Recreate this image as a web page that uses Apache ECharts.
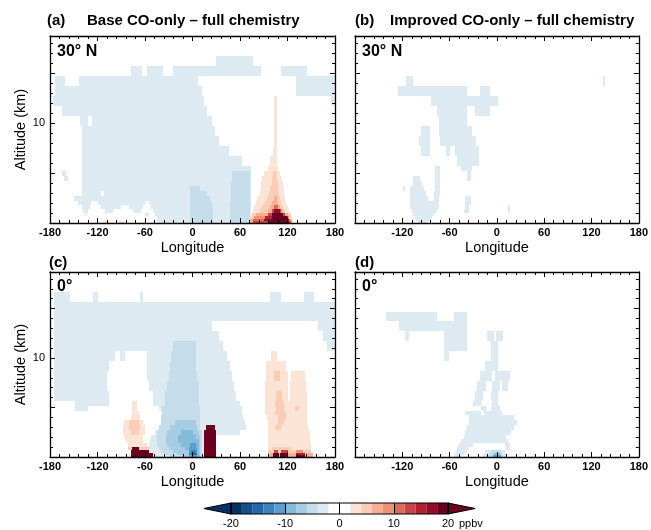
<!DOCTYPE html>
<html>
<head>
<meta charset="utf-8">
<script src="https://cdn.jsdelivr.net/npm/echarts@6/dist/echarts.min.js"></script>
<style>
  html, body { margin: 0; padding: 0; background: #fff; }
  #chart { width: 651px; height: 530px; }
</style>
</head>
<body>
<div id="chart"></div>
<script>
// model level edges (km), row r spans altEdges[r]..altEdges[r+1]
var altEdges = [0, 0.2, 0.4, 0.7, 1.0, 1.4, 1.8, 2.2, 2.7, 3.2, 3.7, 4.2, 4.7, 5.2, 5.7,
  6.7, 7.7, 8.7, 9.7, 10.7, 11.7, 12.7, 13.7, 14.7, 15.7, 16.7, 17.7, 18.7];

// colour bar levels (ppbv) and fills
var levels = [-20, -18, -16, -14, -12, -10, -8, -6, -4, -2, 0, 2, 4, 6, 8, 10, 12, 14, 16, 18, 20];
var levelColors = ['#063263', '#164f8c', '#2466a8', '#3a82bb', '#5b9ecb', '#84bbd9', '#a5cce2',
  '#c5ddeb', '#deeaf2', '#ffffff', '#ffffff', '#fbe3d6', '#fbcdb6', '#f6af94', '#ec9275',
  '#dc6b56', '#c9444a', '#b21f31', '#920e27', '#66001f'];
var underColor = '#0a2f63';
var overColor = '#6a0020';
var cbLabels = [-20, -10, 0, 10, 20];

// [row, lon0, lon1, ppbv] ; later spans are drawn over earlier ones
var spansA = [
  [24, 30, 77, -3],
  [23, -78, -64, -3], [23, -58, -37, -3], [23, -25, 87, -3], [23, 112, 144, -3],
  [22, -174, -161, -3], [22, -143, 7, -3], [22, 131, 180, -3],
  [21, -174, 12, -3], [21, 131, 180, -3],
  [20, -176, 14, -3], [20, 175, 180, -3],
  [19, -165, 18, -3],
  [18, -142, 24, -3], [18, -132, -127, 0],
  [17, -140, 28, -3],
  [16, -139, 34, -3],
  [15, -139, 46, -3],
  [14, -139, 62, -3],
  [13, -139, 74, -3],
  [12, -139, 74, -3], [12, -165, -160, -3],
  [11, -139, 74, -3], [11, -162, -157, -3],
  [10, -139, 74, -3],
  [9, -139, 74, -3],
  [8, -140, 74, -3], [8, -116, -112, 0],
  [7, -150, 74, -3],
  [6, -145, 74, -3], [6, -128, -120, 0], [6, -60, -55, 0],
  [5, -140, 74, -3], [5, -130, -115, 0], [5, -90, -80, 0], [5, -62, -52, 0],
  [4, -138, 74, -3], [4, -132, -110, 0], [4, -100, -75, 0], [4, -65, -50, 0],
  [3, -135, 74, -3], [3, -133, -60, 0], [3, -55, -48, 0],
  [2, -130, 74, -3], [2, -130, -45, 0],
  [1, -45, 74, -3],
  [0, -45, 74, -3],
  [12, 50, 72, -5], [11, 50, 72, -5], [10, 49, 72, -5],
  [9, -3, 10, -5], [9, 49, 72, -5],
  [8, -3, 18, -5], [8, 48, 72, -5],
  [7, -3, 22, -5], [7, 48, 72, -5],
  [6, -3, 24, -5], [6, 47, 72, -5],
  [5, -3, 26, -5], [5, 47, 72, -5],
  [4, -3, 26, -5], [4, 47, 72, -5],
  [3, -3, 26, -5], [3, 47, 72, -5],
  [2, -3, 26, -5], [2, 47, 72, -5],
  [1, -3, 26, -5], [1, 47, 72, -5],
  [0, -3, 26, -5], [0, 47, 72, -5],
  [20, 103, 107, 3], [19, 103, 107, 3], [18, 103, 107, 3], [17, 103, 107, 3],
  [16, 103, 107, 3], [15, 102, 107, 3],
  [14, 98, 107, 3],
  [13, 95, 108, 3],
  [12, 90, 110, 3], [12, 102, 107, 5],
  [11, 88, 112, 3], [11, 100, 107, 5],
  [10, 87, 114, 3], [10, 100, 108, 5],
  [9, 86, 115, 3], [9, 98, 108, 5],
  [8, 85, 116, 3], [8, 96, 109, 5],
  [7, 82, 117, 3], [7, 94, 110, 5], [7, 103, 107, 7],
  [6, 80, 118, 3], [6, 92, 112, 5], [6, 101, 108, 7],
  [5, 78, 120, 3], [5, 88, 114, 5], [5, 98, 110, 7], [5, 103, 108, 11],
  [4, 76, 122, 3], [4, 85, 117, 5], [4, 95, 114, 7], [4, 101, 112, 13], [4, 103, 110, 17],
  [3, 75, 124, 5], [3, 80, 120, 7], [3, 95, 117, 13], [3, 101, 114, 22],
  [2, 74, 125, 5], [2, 78, 122, 9], [2, 92, 120, 15], [2, 100, 119, 22],
  [1, 73, 126, 7], [1, 77, 123, 11], [1, 90, 122, 17], [1, 99, 120, 22],
  [0, 73, 126, 7], [0, 76, 124, 13], [0, 95, 122, 22],
  [0, -113, -105, 3], [0, -95, -85, 3]
];

var spansB = [
  [22, -115, -107, -3], [22, 135, 137, -3],
  [21, -126, -38, -3], [21, -21, -9, -3],
  [20, -83, 2, -3],
  [19, -76, -38, -3], [19, -28, -9, -3],
  [18, -74, -38, -3],
  [17, -74, -32, -3], [17, -96, -85, -3],
  [16, -72, -26, -3], [16, -99, -85, -3],
  [15, -65, -23, -3], [15, -59, -53, 0], [15, -96, -85, -3],
  [14, -51, -23, -3],
  [13, -46, -32, -3], [13, -79, -72, -3],
  [12, -38, -33, -3], [12, -79, -72, -3],
  [11, -38, -33, -3], [11, -79, -72, -3], [11, -107, -97, -3],
  [10, -107, -95, -3], [10, -79, -72, -3],
  [9, -110, -93, -3], [9, -79, -72, -3], [9, -119, -116, -3],
  [8, -110, -90, -3], [8, -80, -72, -3],
  [7, -110, -88, -3], [7, -80, -74, -3], [7, -40, -33, -3],
  [6, -110, -74, -3], [6, -41, -33, -3],
  [5, -110, -74, -3], [5, -41, -35, -3], [5, 14, 17, -3],
  [4, -108, -76, -3], [4, -42, -35, -3], [4, 14, 17, -3],
  [3, -106, -80, -3],
  [2, -104, -82, -3],
  [1, -102, -84, -3],
  [0, -100, -88, -3]
];

var spansC = [
  [24, -175, -155, -3], [24, -126, -120, -3], [24, -66, -63, -3], [24, 98, 112, -3], [24, 141, 154, -3],
  [23, -175, 180, -3],
  [22, -175, 180, -3],
  [21, -175, 24, -3], [21, 158, 180, -3],
  [20, -175, 33, -3], [20, 165, 180, -3],
  [19, -175, 38, -3], [19, 170, 180, -3],
  [18, -175, 43, -3], [18, -98, -92, 0], [18, -85, -58, 0],
  [17, -175, 47, -3], [17, -105, -57, 0],
  [16, -175, 50, -3], [16, -108, -57, 0],
  [15, -175, 52, -3], [15, -108, -55, 0],
  [14, -175, 55, -3], [14, -105, -50, 0],
  [13, -149, -105, -3], [13, -50, 60, -3],
  [12, -149, -132, -3], [12, -42, 62, -3],
  [11, -38, 62, -3],
  [10, -38, 64, -3],
  [9, -38, 66, -3],
  [8, -42, 68, -3],
  [7, -48, 14, -3], [7, 30, 60, -3],
  [6, -52, 14, -3],
  [5, -54, 14, -3],
  [4, -55, 14, -3],
  [3, -56, 14, -3],
  [2, -56, 14, -3],
  [1, -50, 14, -3],
  [0, -50, 14, -3],
  [19, -25, 5, -5], [18, -27, 5, -5], [17, -28, 5, -5], [16, -30, 6, -5], [15, -32, 8, -5],
  [14, -35, 8, -5], [13, -35, 8, -5], [12, -38, 10, -5], [11, -38, 10, -5], [10, -40, 10, -5],
  [9, -40, 10, -5], [8, -42, 10, -5], [7, -45, 12, -5], [6, -45, 12, -5], [5, -45, 12, -5],
  [4, -45, 12, -5], [3, -42, 12, -5], [2, -40, 12, -5], [1, -35, 12, -5], [0, -30, 12, -5],
  [9, -22, 4, -7], [8, -28, 6, -7], [7, -32, 8, -7], [6, -33, 10, -7], [5, -33, 10, -7],
  [4, -32, 10, -7], [3, -30, 10, -7], [2, -25, 10, -7], [1, -20, 10, -7], [0, -12, 10, -7],
  [7, -15, 0, -9], [6, -18, 5, -9], [5, -18, 8, -9], [4, -15, 8, -9], [3, -10, 8, -9],
  [2, -5, 8, -9], [1, -2, 8, -9], [0, -5, 10, -9],
  [4, -3, 5, -11], [3, -5, 6, -11], [2, -5, 6, -11], [2, -2, 5, -13], [1, -4, 6, -13],
  [1, 0, 5, -15], [0, -3, 6, -11],
  [13, -76, -70, 3], [12, -76, -70, 3], [11, -77, -68, 3], [10, -78, -66, 3],
  [9, -86, -62, 3], [9, -80, -68, 5],
  [8, -88, -60, 3], [8, -80, -66, 5],
  [7, -88, -60, 3], [7, -78, -68, 5],
  [6, -86, -62, 3], [5, -84, -62, 3], [4, -82, -58, 3],
  [3, -82, -55, 5], [3, -77, -68, 22],
  [2, -78, -55, 22], [1, -78, -50, 22], [0, -78, -50, 22],
  [8, 17, 28, 22], [7, 15, 30, 22], [6, 15, 30, 22], [5, 15, 30, 22], [4, 15, 30, 22],
  [3, 15, 30, 22], [2, 15, 30, 22], [1, 15, 30, 22], [0, 15, 30, 22],
  [18, 99, 107, 3],
  [17, 93, 118, 3],
  [16, 93, 120, 3], [16, 124, 142, 3], [16, 103, 110, 5],
  [15, 92, 120, 3], [15, 123, 143, 3],
  [14, 92, 120, 3], [14, 123, 144, 3], [14, 105, 113, 5],
  [13, 92, 144, 3], [13, 104, 115, 5],
  [12, 92, 144, 3], [12, 106, 116, 5], [12, 130, 135, 5],
  [11, 92, 145, 3], [11, 104, 118, 5],
  [10, 94, 145, 3], [10, 108, 118, 5],
  [9, 95, 145, 3], [9, 108, 116, 5],
  [8, 95, 146, 3], [8, 104, 112, 5],
  [7, 95, 148, 3], [6, 95, 148, 3], [5, 95, 148, 3], [4, 95, 150, 3],
  [3, 95, 150, 3], [3, 100, 125, 5],
  [2, 95, 150, 5], [2, 103, 108, 13], [2, 112, 120, 13], [2, 131, 140, 9],
  [1, 95, 152, 7], [1, 102, 109, 22], [1, 111, 121, 22], [1, 131, 142, 15],
  [0, 95, 152, 7], [0, 102, 109, 22], [0, 111, 121, 22], [0, 131, 142, 22]
];

var spansD = [
  [22, -141, -76, -3], [22, -55, -38, -3],
  [21, -124, -38, -3],
  [20, -116, -111, -3], [20, -67, -38, -3], [20, -13, -4, -3], [20, -1, 8, -3],
  [19, -67, -38, -3], [19, -7, 2, -3],
  [18, -67, -61, -3], [18, -7, 2, -3],
  [17, -15, 2, -3],
  [16, -22, -6, -3], [16, -2, 16, -3],
  [15, -25, -14, -3], [15, -6, 4, -3], [15, 6, 14, -3],
  [14, -28, -18, -3], [14, -8, 2, -3],
  [13, -30, -20, -3], [13, -6, 2, -3],
  [12, -20, -14, -3], [12, -8, 4, -3],
  [11, -40, -20, -3], [11, -16, 6, -3],
  [10, -35, 22, -3],
  [9, -35, 25, -3],
  [8, -38, 22, -3],
  [7, -40, 18, -3],
  [6, -42, 12, -3],
  [5, -45, 14, -3],
  [4, -48, -30, -3], [4, 10, 16, -3],
  [3, -50, -35, -3], [3, 12, 16, -3],
  [2, -52, -38, -3], [2, -15, 10, -3], [2, -8, 5, -5],
  [1, -53, -42, -3], [1, -18, 12, -3], [1, -10, 6, -5], [1, -4, 4, -9],
  [0, -55, -45, -3], [0, -18, 12, -3], [0, -12, 8, -5], [0, -5, 5, -11]
];

var panelTitles = ['Base CO-only \u2013 full chemistry', 'Improved CO-only \u2013 full chemistry'];
var panelTags = ['(a)', '(b)', '(c)', '(d)'];
var latLabels = ['30\u00b0 N', '30\u00b0 N', '0\u00b0', '0\u00b0'];

var grids = [
  {left: 50, top: 36, width: 285, height: 187},
  {left: 355, top: 36, width: 287, height: 187},
  {left: 50, top: 272, width: 285, height: 185},
  {left: 355, top: 272, width: 287, height: 185},
  {left: 231, top: 503, width: 217, height: 11}
];
var cbTip = 5; // length of the end triangles, in colour-bar units
var font = 'Liberation Sans, Arial, sans-serif';

function colorOf(v) {
  if (v < levels[0]) return underColor;
  if (v >= levels[levels.length - 1]) return overColor;
  for (var i = 0; i < levels.length - 1; i++) {
    if (v >= levels[i] && v < levels[i + 1]) return levelColors[i];
  }
  return '#ffffff';
}

function toCells(spans) {
  return spans.map(function (s) {
    return [s[1], s[2], altEdges[s[0]], altEdges[s[0] + 1], s[3]];
  });
}

function renderCell(params, api) {
  var p0 = api.coord([api.value(0), api.value(3)]);
  var p1 = api.coord([api.value(1), api.value(2)]);
  var x0 = Math.round(p0[0]), y0 = Math.round(p0[1]);
  var x1 = Math.round(p1[0]), y1 = Math.round(p1[1]);
  return {
    type: 'rect',
    shape: {x: x0, y: y0, width: x1 - x0, height: y1 - y0},
    style: {fill: colorOf(api.value(4))}
  };
}

var frame = {color: '#000', width: 1.3};
var tickStyle = {color: '#000', width: 1};
var xAxes = [], yAxes = [], series = [];
var allSpans = [spansA, spansB, spansC, spansD];

for (var i = 0; i < 4; i++) {
  var leftCol = (i % 2 === 0);
  xAxes.push({
    gridIndex: i, type: 'value', min: -180, max: 180, interval: 60, position: 'bottom', z: 10,
    axisLine: {show: true, onZero: false, lineStyle: frame},
    axisTick: {inside: true, length: 5, lineStyle: tickStyle},
    minorTick: {show: true, splitNumber: 5, length: 3, lineStyle: tickStyle},
    splitLine: {show: false},
    axisLabel: {
      margin: 4, fontSize: 11, fontWeight: 'bold', color: '#000', fontFamily: font,
      showMinLabel: true, showMaxLabel: true,
      formatter: (function (lc) {
        return function (v) { return (!lc && v === -180) ? '' : String(v); };
      })(leftCol)
    },
    name: 'Longitude', nameLocation: 'middle', nameGap: 17,
    nameTextStyle: {fontSize: 14.5, color: '#000', fontFamily: font}
  });
  xAxes.push({
    gridIndex: i, type: 'value', min: -180, max: 180, interval: 60, position: 'top', z: 10,
    axisLine: {show: true, onZero: false, lineStyle: frame},
    axisTick: {inside: true, length: 5, lineStyle: tickStyle},
    minorTick: {show: true, splitNumber: 5, length: 3, lineStyle: tickStyle},
    splitLine: {show: false},
    axisLabel: {show: false}
  });
  yAxes.push({
    gridIndex: i, type: 'value', min: 0, max: 18.7, interval: 5, position: 'left', z: 10,
    axisLine: {show: true, onZero: false, lineStyle: frame},
    axisTick: {inside: true, length: 5, lineStyle: tickStyle},
    minorTick: {show: true, splitNumber: 5, length: 3, lineStyle: tickStyle},
    splitLine: {show: false},
    axisLabel: {
      margin: 5, fontSize: 11, color: '#000', fontFamily: font,
      formatter: (function (lc) {
        return function (v) { return (lc && v === 10) ? '10' : ''; };
      })(leftCol)
    },
    name: leftCol ? 'Altitude (km)' : '', nameLocation: 'middle', nameGap: 22,
    nameTextStyle: {fontSize: 14.5, color: '#000', fontFamily: font}
  });
  yAxes.push({
    gridIndex: i, type: 'value', min: 0, max: 18.7, interval: 5, position: 'right', z: 10,
    axisLine: {show: true, onZero: false, lineStyle: frame},
    axisTick: {inside: true, length: 5, lineStyle: tickStyle},
    minorTick: {show: true, splitNumber: 5, length: 3, lineStyle: tickStyle},
    splitLine: {show: false},
    axisLabel: {show: false}
  });
  series.push({
    type: 'custom', xAxisIndex: 2 * i, yAxisIndex: 2 * i,
    data: toCells(allSpans[i]), renderItem: renderCell,
    clip: true, silent: true, animation: false
  });
}

// colour bar
xAxes.push({
  gridIndex: 4, type: 'value', min: -20, max: 20, interval: 10, z: 10,
  axisLine: {show: false}, axisTick: {show: false},
  splitLine: {show: true, lineStyle: {color: '#000', width: 1}},
  axisLabel: {margin: 4, fontSize: 11, color: '#000', fontFamily: font,
    formatter: function (v) { return cbLabels.indexOf(v) >= 0 ? String(v) : ''; }},
  name: 'ppbv', nameLocation: 'end', nameGap: 11,
  nameTextStyle: {fontSize: 11, color: '#000', fontFamily: font, verticalAlign: 'top', padding: [4, 0, 0, 0]}
});
yAxes.push({gridIndex: 4, type: 'value', min: 0, max: 1, show: false});

var cbBins = levels.slice(0, -1).map(function (lo, k) { return [lo, levels[k + 1], k]; });
series.push({
  type: 'custom', xAxisIndex: 8, yAxisIndex: 8, data: cbBins, silent: true, animation: false, clip: false,
  renderItem: function (params, api) {
    var p0 = api.coord([api.value(0), 1]);
    var p1 = api.coord([api.value(1), 0]);
    return {type: 'rect', shape: {x: p0[0], y: p0[1], width: p1[0] - p0[0], height: p1[1] - p0[1]},
      style: {fill: levelColors[api.value(2)]}};
  }
});
series.push({
  type: 'custom', xAxisIndex: 8, yAxisIndex: 8, silent: true, animation: false, clip: false, z: 5,
  data: [[levels[0], levels[0] - cbTip, 0], [levels[levels.length - 1], levels[levels.length - 1] + cbTip, 1]],
  renderItem: function (params, api) {
    var base = api.value(0), tip = api.value(1);
    return {type: 'polygon',
      shape: {points: [api.coord([base, 0]), api.coord([tip, 0.5]), api.coord([base, 1])]},
      style: {fill: api.value(2) === 0 ? underColor : overColor, stroke: '#000', lineWidth: 1}};
  }
});
series.push({
  type: 'custom', xAxisIndex: 8, yAxisIndex: 8, silent: true, animation: false, clip: false, z: 6,
  data: [[levels[0], levels[levels.length - 1]]],
  renderItem: function (params, api) {
    var p0 = api.coord([api.value(0), 1]);
    var p1 = api.coord([api.value(1), 0]);
    return {type: 'rect', shape: {x: p0[0], y: p0[1], width: p1[0] - p0[0], height: p1[1] - p0[1]},
      style: {fill: 'none', stroke: '#000', lineWidth: 1.2}};
  }
});

function boldText(text, left, top, size) {
  return {text: text, left: left, top: top, padding: 0,
    textStyle: {fontSize: size, fontWeight: 'bold', color: '#000', fontFamily: font}};
}

var titles = [
  boldText(panelTags[0], 47, 13, 15), boldText(panelTitles[0], 87, 13, 15),
  boldText(panelTags[1], 355, 13, 15), boldText(panelTitles[1], 390, 13, 15),
  boldText(panelTags[2], 49, 255, 15), boldText(panelTags[3], 355, 255, 15),
  boldText(latLabels[0], 57, 44, 16), boldText(latLabels[1], 362, 44, 16),
  boldText(latLabels[2], 57, 279, 16), boldText(latLabels[3], 362, 279, 16)
];

var chart = echarts.init(document.getElementById('chart'));
chart.setOption({
  animation: false,
  backgroundColor: '#fff',
  textStyle: {fontFamily: font},
  title: titles,
  grid: grids,
  xAxis: xAxes,
  yAxis: yAxes,
  series: series
});
</script>
</body>
</html>
